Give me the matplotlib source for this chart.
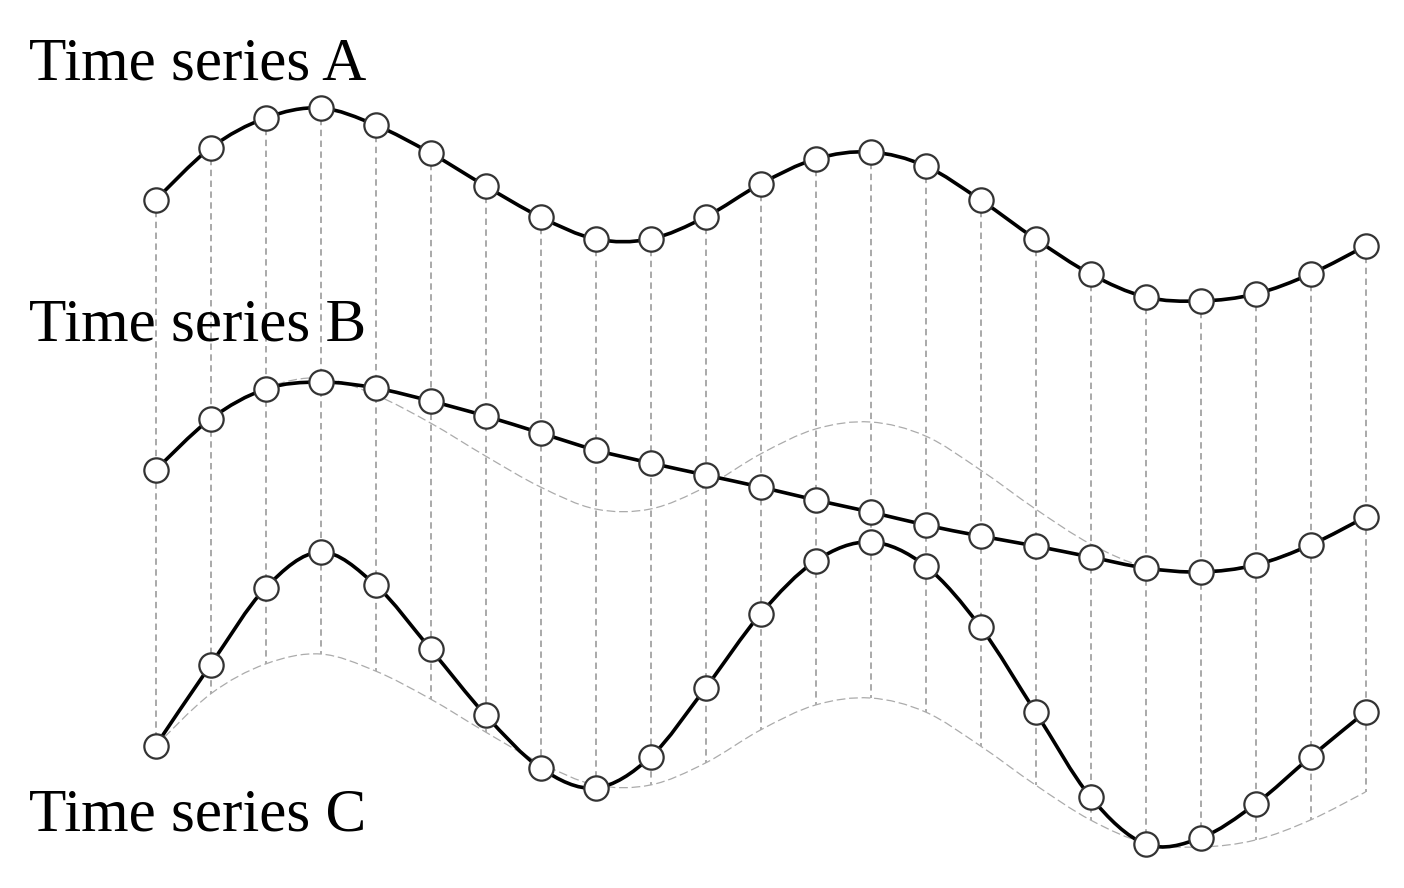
import numpy as np
import matplotlib
matplotlib.use("Agg")
import matplotlib.pyplot as plt
from matplotlib.path import Path
from matplotlib.patches import PathPatch

# time steps (pixel-space layout, 23 samples)
steps = np.arange(23)
x0, dx = 155.5, 55.0

# series values (screen y, smaller = higher)
series_a = [200, 148, 118, 108, 125, 153, 186, 217, 239, 239, 217, 184,
            159, 152, 166, 200, 239, 274, 297, 301, 294, 274, 246]
series_b = [470, 419, 389, 382, 388, 401, 416, 433, 450, 463, 475, 487,
            500, 512, 525, 536, 546, 557, 568, 572, 565, 545, 517]
series_c = [746, 665, 588, 552, 585, 649, 715, 768, 788, 757, 688, 614,
            561, 542, 566, 627, 712, 797, 844, 838, 804, 757, 712]

labels = ["Time series A", "Time series B", "Time series C"]

# shadow copies of series A drawn under B and C
shift_b = 270
shift_c = 546

xs = x0 + dx * steps
a = np.array(series_a, dtype=float)
b = np.array(series_b, dtype=float)
c = np.array(series_c, dtype=float)
ghost_b = a + shift_b
ghost_c = a + shift_c


def smooth_path(x, y):
    # catmull-rom through the points, drawn as cubic bezier segments
    pts = np.column_stack([x, y])
    verts = [pts[0]]
    codes = [Path.MOVETO]
    n = len(pts)
    for i in range(n - 1):
        p0 = pts[max(i - 1, 0)]
        p1 = pts[i]
        p2 = pts[i + 1]
        p3 = pts[min(i + 2, n - 1)]
        verts += [p1 + (p2 - p0) / 6, p2 - (p3 - p1) / 6, p2]
        codes += [Path.CURVE4] * 3
    return Path(verts, codes)


fig = plt.figure(figsize=(14.04, 8.88), dpi=100)
ax = fig.add_axes([0, 0, 1, 1])
ax.set_xlim(0, 1404)
ax.set_ylim(888, 0)
ax.axis("off")

# vertical guides from A down to the lowest mark
bottom = np.maximum(c, ghost_c)
ax.vlines(xs, a, bottom, colors="#969696", linewidth=1.15,
          linestyles=(0, (4, 2.8)), zorder=1)

# faint copies of A
for g in (ghost_b, ghost_c):
    ax.add_patch(PathPatch(smooth_path(xs, g), facecolor="none",
                           edgecolor="#ababab", linewidth=0.9,
                           linestyle=(0, (7, 3)), zorder=2))

for s in (a, b, c):
    ax.add_patch(PathPatch(smooth_path(xs, s), facecolor="none",
                           edgecolor="black", linewidth=2.6, zorder=3))
    ax.plot(xs, s, linestyle="none", zorder=4,
            marker="o", markersize=17.5, markerfacecolor="white",
            markeredgecolor="#333333", markeredgewidth=1.6)

for lab, ybase in zip(labels, (80, 340, 830)):
    ax.text(29, ybase, lab, fontsize=44, family="Liberation Serif",
            va="baseline", ha="left", color="black")

fig.savefig("out.png", dpi=100, facecolor="white")
